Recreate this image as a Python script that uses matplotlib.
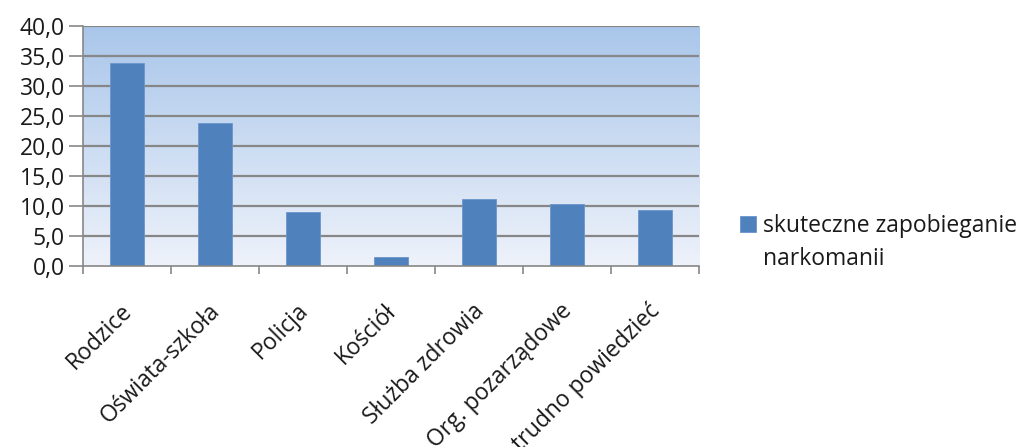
import matplotlib
matplotlib.use("Agg")
import matplotlib.pyplot as plt
import numpy as np
from matplotlib.colors import LinearSegmentedColormap

categories = ["Rodzice", "Oświata-szkoła", "Policja", "Kościół", "Służba zdrowia",
              "Org. pozarządowe", "trudno powiedzieć"]
values = [33.9, 23.8, 9.0, 1.5, 11.2, 10.4, 9.4]
series_name = "skuteczne zapobieganie\nnarkomanii"
yticks = [0, 5, 10, 15, 20, 25, 30, 35, 40]
ytick_labels = ["0,0", "5,0", "10,0", "15,0", "20,0", "25,0", "30,0", "35,0", "40,0"]

plt.rcParams['font.family'] = ['Open Sans', 'DejaVu Sans']
FS = 16.5
TXT = "#1a1a1a"

W, H = 1021, 447
fig = plt.figure(figsize=(W / 100, H / 100), dpi=100)
ax = fig.add_axes([83 / W, 1 - 266 / H, (699 - 83) / W, 240 / H])

n = len(categories)
ax.set_xlim(-0.5, n - 0.5)
ax.set_ylim(0, 40)

# gradient background
grad = np.linspace(0, 1, 256).reshape(-1, 1)
cmap = LinearSegmentedColormap.from_list("bg", ["#eef2fa", "#a9c6ea"])
ax.imshow(grad, aspect='auto', cmap=cmap, origin='lower',
          extent=[-0.5, n - 0.5, 0, 40], zorder=0)

for y in yticks[1:]:
    ax.axhline(y, color="#878787", lw=1.6, zorder=1)

x = np.arange(n)
first_line, second_line = series_name.split("\n")
ax.bar(x, values, width=0.39, color="#4f81bd", edgecolor="#6a95cc", linewidth=0.6,
       zorder=2, label=first_line)

ax.set_yticks(yticks)
ax.set_yticklabels(ytick_labels, fontsize=FS, color=TXT)
ax.set_xticks(np.arange(-0.5, n, 1.0))
ax.set_xticklabels([])
ax.tick_params(axis='y', length=10, width=1.2, color="#878787", pad=3)
ax.tick_params(axis='x', length=6, width=1.2, color="#878787")

for sp in ["top", "right"]:
    ax.spines[sp].set_visible(False)
for sp in ["left", "bottom"]:
    ax.spines[sp].set_color("#878787")
    ax.spines[sp].set_linewidth(1.2)

for i, c in enumerate(categories):
    ax.text(i + 0.07, -7.6, c, rotation=45, ha='right', va='baseline',
            fontsize=FS, color=TXT, rotation_mode='anchor')

leg = fig.legend(loc='upper left', bbox_to_anchor=(740 / W, 1 - 214 / H),
                 frameon=False, fontsize=FS, handlelength=0.7, handleheight=0.7,
                 handletextpad=0.3, borderpad=0, borderaxespad=0, labelcolor=TXT)
fig.text(763 / W, 1 - 259 / H, second_line, fontsize=FS, color=TXT,
         ha='left', va='center')

fig.savefig("out.png", dpi=100)
